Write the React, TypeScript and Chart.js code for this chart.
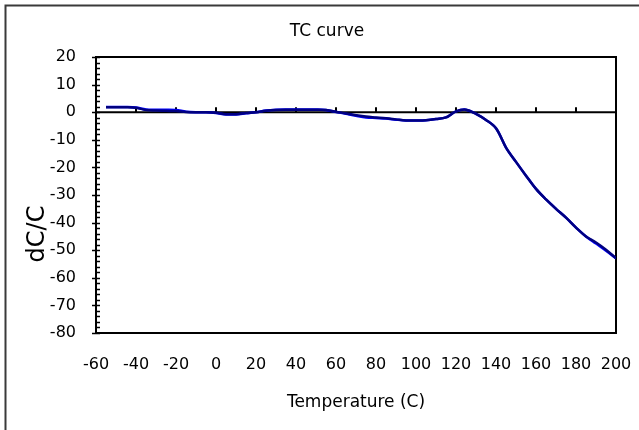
import React, { useEffect, useRef } from "react";
import { Chart, registerables } from "chart.js";

Chart.register(...registerables);

const temperatures = [
  -55, -50, -45, -40, -35, -30, -25, -20, -15, -10, -5, 0, 5, 10, 15, 20, 25, 30,
  35, 40, 45, 50, 55, 60, 65, 70, 75, 80, 85, 90, 95, 100, 105, 110, 115, 120,
  125, 130, 135, 140, 145, 150, 155, 160, 165, 170, 175, 180, 185, 190, 195, 200,
];

const sampleNavy = [
  1.8, 1.8, 1.8, 1.6, 0.8, 0.6, 0.5, 0.4, 0.1, 0, 0, -0.2, -0.7, -0.7, -0.3, 0,
  0.5, 0.8, 0.9, 0.9, 0.9, 0.9, 0.8, 0.2, -0.5, -1.1, -1.6, -1.9, -2.2, -2.6,
  -3.0, -3.0, -2.9, -2.5, -1.9, 0.3, 0.9, -0.6, -2.8, -5.8, -12.8, -18, -23,
  -27.8, -31.6, -35, -38.2, -41.8, -45, -47.2, -49.8, -52.9,
];

const sampleBlue = [
  1.9, 1.9, 1.9, 1.7, 1.0, 0.9, 0.9, 0.8, 0.2, 0, 0, -0.3, -0.8, -0.8, -0.4, 0,
  0.6, 0.9, 1.0, 1.0, 1.0, 1.0, 0.8, 0.1, -0.6, -1.3, -1.9, -2.1, -2.3, -2.7,
  -3.0, -3.0, -2.9, -2.5, -1.9, 0.3, 0.9, -0.6, -2.8, -5.8, -12.8, -18, -23,
  -27.8, -31.6, -35, -38.2, -41.8, -45, -47.6, -50.2, -52.9,
];

const xMin = -60;
const xMax = 200;
const xStep = 20;
const yMin = -80;
const yMax = 20;
const yStep = 10;
const yMinorStep = 2;

const chartTitle = "TC curve";
const xTitle = "Temperature (C)";
const yTitle = "dC/C";

const FONT = '"DejaVu Sans", "Liberation Sans", Arial, sans-serif';

const framePlugin = {
  id: "excelFrame",
  beforeDatasetsDraw(chart: any) {
    const { ctx, chartArea, scales } = chart;
    const xs = scales.x;
    const ys = scales.y;
    ctx.save();
    // outer chart frame (left & top visible)
    ctx.strokeStyle = "#3a3a3a";
    ctx.lineWidth = 2;
    ctx.beginPath();
    ctx.moveTo(5.5, chart.height);
    ctx.lineTo(5.5, 5.5);
    ctx.lineTo(chart.width, 5.5);
    ctx.stroke();

    // plot box
    ctx.strokeStyle = "#000";
    ctx.lineWidth = 2;
    ctx.strokeRect(
      chartArea.left,
      chartArea.top,
      chartArea.right - chartArea.left,
      chartArea.bottom - chartArea.top
    );

    // zero line (x axis crossing)
    const y0 = ys.getPixelForValue(0);
    ctx.beginPath();
    ctx.moveTo(chartArea.left, y0);
    ctx.lineTo(chartArea.right, y0);
    ctx.stroke();

    // y ticks
    ctx.lineWidth = 1.5;
    for (let v = yMin; v <= yMax; v += yMinorStep) {
      const py = Math.round(ys.getPixelForValue(v)) + 0.5;
      const major = v % yStep === 0;
      ctx.beginPath();
      ctx.moveTo(chartArea.left - (major ? 4 : 0), py);
      ctx.lineTo(chartArea.left + 4, py);
      ctx.stroke();
    }

    // x ticks on zero line
    ctx.lineWidth = 2;
    for (let t = xMin + xStep; t < xMax; t += xStep) {
      const px = xs.getPixelForValue(t);
      ctx.beginPath();
      ctx.moveTo(px, y0);
      ctx.lineTo(px, y0 - 5);
      ctx.stroke();
    }

    // titles
    ctx.fillStyle = "#000";
    ctx.textAlign = "center";
    ctx.textBaseline = "middle";
    ctx.font = `17px ${FONT}`;
    ctx.fillText(chartTitle, 327, 32);
    ctx.fillText(xTitle, (chartArea.left + chartArea.right) / 2, 403);

    ctx.save();
    ctx.translate(38, 234);
    ctx.rotate(-Math.PI / 2);
    ctx.font = `24px ${FONT}`;
    ctx.fillText(yTitle, 0, 0);
    ctx.restore();

    ctx.restore();
  },
};

export default function App() {
  const canvasRef = useRef<HTMLCanvasElement | null>(null);

  useEffect(() => {
    if (!canvasRef.current) return;
    const chart = new Chart(canvasRef.current, {
      type: "line",
      data: {
        datasets: [
          {
            label: "Sample A",
            data: temperatures.map((t, i) => ({ x: t, y: sampleNavy[i] })),
            borderColor: "#000080",
            borderWidth: 2.5,
            pointRadius: 0,
            tension: 0.35,
            fill: false,
          },
          {
            label: "Sample B",
            data: temperatures.map((t, i) => ({ x: t, y: sampleBlue[i] })),
            borderColor: "#0000ff",
            borderWidth: 2.5,
            pointRadius: 0,
            tension: 0.35,
            fill: false,
          },
        ],
      },
      options: {
        animation: false,
        responsive: false,
        events: [],
        layout: { padding: { left: 0, right: 23, top: 57, bottom: 0 } },
        plugins: {
          legend: { display: false },
          title: { display: false },
          tooltip: { enabled: false },
        },
        scales: {
          x: {
            type: "linear",
            min: xMin,
            max: xMax,
            border: { display: false },
            grid: { display: false, drawTicks: false },
            ticks: {
              stepSize: xStep,
              padding: 22,
              color: "#000",
              font: { family: FONT, size: 16 },
              maxRotation: 0,
              autoSkip: false,
            },
            afterFit(scale: any) {
              scale.height = 97;
              scale.paddingLeft = 0;
              scale.paddingRight = 0;
            },
          },
          y: {
            type: "linear",
            min: yMin,
            max: yMax,
            border: { display: false },
            grid: { display: false, drawTicks: false },
            ticks: {
              stepSize: yStep,
              padding: 20,
              color: "#000",
              font: { family: FONT, size: 16 },
            },
            afterFit(scale: any) {
              scale.width = 96;
              scale.paddingTop = 0;
              scale.paddingBottom = 0;
            },
          },
        },
      },
      plugins: [framePlugin],
    });
    return () => chart.destroy();
  }, []);

  return (
    <div style={{ position: "fixed", left: 0, top: 0, width: 639, height: 430, background: "#fff" }}>
      <canvas ref={canvasRef} width={639} height={430} style={{ display: "block" }} />
    </div>
  );
}
